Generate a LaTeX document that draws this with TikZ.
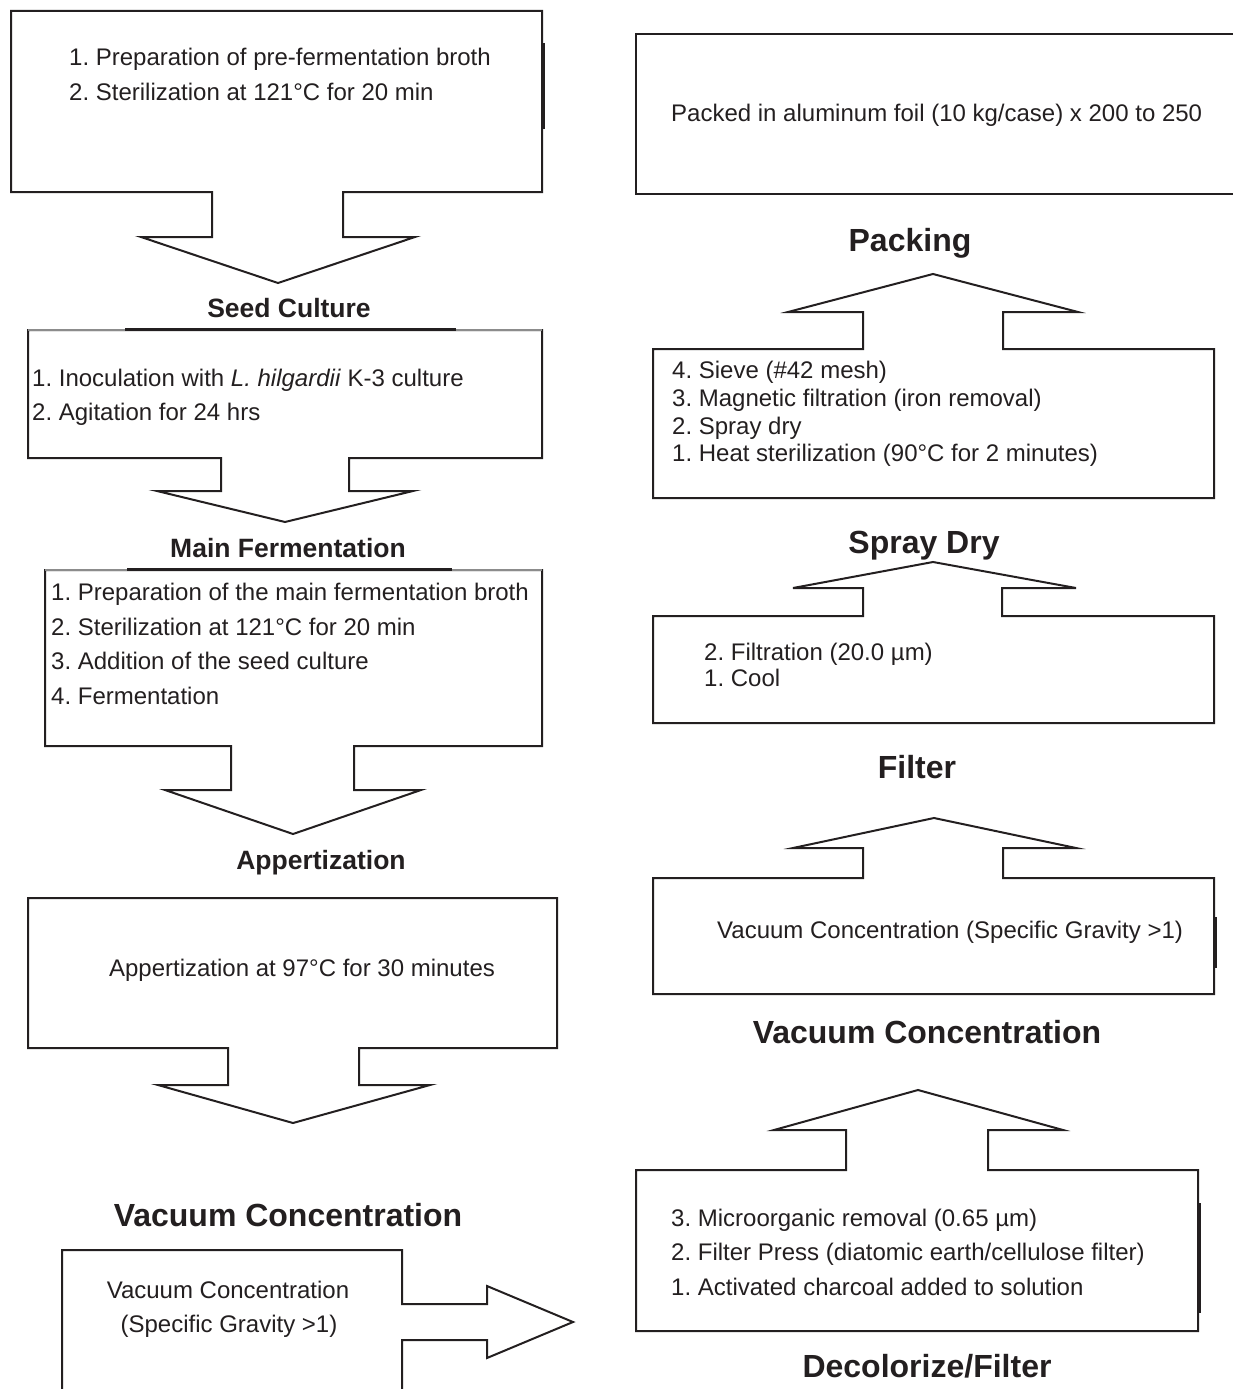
\documentclass[tikz,border=0pt]{standalone}
\usepackage{fontspec}
\setmainfont{Liberation Sans}
\usepackage{tikz}
\frenchspacing
\definecolor{ink}{HTML}{231F20}
\definecolor{faint}{HTML}{8C8C8C}
\tikzstyle{txt} = [anchor=base west, inner sep=0pt, text=ink, font=\fontsize{24}{28}\selectfont]
\tikzstyle{ctxt} = [txt, anchor=base]
\tikzstyle{stage} = [anchor=base, inner sep=0pt, text=ink, font=\fontsize{26.5}{30}\selectfont\bfseries]
\tikzstyle{bigstage} = [stage, font=\fontsize{32}{36}\selectfont\bfseries]
\tikzstyle{frame} = [draw=ink, line width=2pt, line join=miter]

\begin{document}
\begin{tikzpicture}[x=1pt, y=-1pt]
    \useasboundingbox (0,0) rectangle (1232,1389);

    % left column, going down
    \draw [frame] (11,11) -- (542,11) -- (542,192) -- (343,192) -- (343,237) -- (415,237) -- (278,283)
        -- (141,237) -- (212,237) -- (212,192) -- (11,192) -- cycle;
    \draw [ink, line width=2.5pt] (543.5,43) -- (543.5,129);
    \node (prep1) [txt] at (69,66) {1. Preparation of pre-fermentation broth};
    \node (prep2) [txt] at (69,100) {2. Sterilization at 121°C for 20 min};
    \node (seed) [stage] at (289,317.5) {Seed Culture};

    \draw [frame] (28,330) -- (542,330) -- (542,458) -- (349,458) -- (349,491) -- (413,491) -- (285,522)
        -- (157,491) -- (221,491) -- (221,458) -- (28,458) -- cycle;
    \draw [faint, line width=2pt] (28,330) -- (542,330);
    \draw [ink, line width=2.4pt] (125,329.5) -- (456,329.5);
    \node (seed1) [txt] at (32,386) {1. Inoculation with \textit{L. hilgardii} K-3 culture};
    \node (seed2) [txt] at (32,420) {2. Agitation for 24 hrs};
    \node (main) [stage] at (288,557.5) {Main Fermentation};

    \draw [frame] (45,570) -- (542,570) -- (542,746) -- (354,746) -- (354,790) -- (421,790) -- (293,834)
        -- (165,790) -- (231,790) -- (231,746) -- (45,746) -- cycle;
    \draw [faint, line width=2pt] (45,570) -- (542,570);
    \draw [ink, line width=2.4pt] (127,569.5) -- (452,569.5);
    \node (main1) [txt] at (51,600) {1. Preparation of the main fermentation broth};
    \node (main2) [txt] at (51,635) {2. Sterilization at 121°C for 20 min};
    \node (main3) [txt] at (51,669) {3. Addition of the seed culture};
    \node (main4) [txt] at (51,704) {4. Fermentation};
    \node (appz) [stage] at (321,869.5) {Appertization};

    \draw [frame] (28,898) -- (557,898) -- (557,1048) -- (359,1048) -- (359,1085) -- (430,1085) -- (293,1123)
        -- (158,1085) -- (228,1085) -- (228,1048) -- (28,1048) -- cycle;
    \node (appz1) [ctxt] at (302,976) {Appertization at 97°C for 30 minutes};
    \node (vacL) [bigstage] at (288,1226) {Vacuum Concentration};

    \draw [frame] (62,1400) -- (62,1250) -- (402,1250) -- (402,1304) -- (487,1304) -- (487,1286) -- (573,1322)
        -- (487,1358) -- (487,1340) -- (402,1340) -- (402,1400);
    \node (vacL1) [ctxt] at (228,1298.5) {Vacuum Concentration};
    \node (vacL2) [ctxt] at (229,1332) {(Specific Gravity >1)};

    % right column, going up
    \draw [frame] (1240,34) -- (636,34) -- (636,194) -- (1240,194);
    \node (pack1) [txt] at (671,121.5) {Packed in aluminum foil (10 kg/case) x 200 to 250};
    \node (pack) [bigstage] at (910,251.5) {Packing};

    \draw [frame] (653,498) -- (653,349) -- (863,349) -- (863,312) -- (788,312) -- (933,274) -- (1078,312)
        -- (1003,312) -- (1003,349) -- (1214,349) -- (1214,498) -- cycle;
    \node (dry4) [txt] at (672,378.5) {4. Sieve (\#42 mesh)};
    \node (dry3) [txt] at (672,406.5) {3. Magnetic filtration (iron removal)};
    \node (dry2) [txt] at (672,434) {2. Spray dry};
    \node (dry1) [txt] at (672,461.5) {1. Heat sterilization (90°C for 2 minutes)};
    \node (dry) [bigstage] at (924,553.5) {Spray Dry};

    \draw [frame] (653,723) -- (653,616) -- (863,616) -- (863,588) -- (793,588) -- (933,562) -- (1076,588)
        -- (1002,588) -- (1002,616) -- (1214,616) -- (1214,723) -- cycle;
    \node (filt2) [txt] at (704,660.5) {2. Filtration (20.0 µm)};
    \node (filt1) [txt] at (704,686.5) {1. Cool};
    \node (filt) [bigstage] at (917,778) {Filter};

    \draw [frame] (653,994) -- (653,878) -- (863,878) -- (863,848) -- (793,848) -- (934,818) -- (1076,848)
        -- (1003,848) -- (1003,878) -- (1214,878) -- (1214,994) -- cycle;
    \draw [ink, line width=2.5pt] (1215.5,917) -- (1215.5,968);
    \node (conc1) [txt] at (717,938.5) {Vacuum Concentration (Specific Gravity >1)};
    \node (vacR) [bigstage] at (927,1043.5) {Vacuum Concentration};

    \draw [frame] (636,1331) -- (636,1170) -- (846,1170) -- (846,1130) -- (774,1130) -- (918,1090) -- (1063,1130)
        -- (988,1130) -- (988,1170) -- (1198,1170) -- (1198,1331) -- cycle;
    \draw [ink, line width=2.5pt] (1199.5,1203) -- (1199.5,1313);
    \node (decol3) [txt] at (671,1226.5) {3. Microorganic removal (0.65 µm)};
    \node (decol2) [txt] at (671,1260.5) {2. Filter Press (diatomic earth/cellulose filter)};
    \node (decol1) [txt] at (671,1295.5) {1. Activated charcoal added to solution};
    \node (decol) [bigstage] at (927,1377.5) {Decolorize/Filter};
\end{tikzpicture}
\end{document}
